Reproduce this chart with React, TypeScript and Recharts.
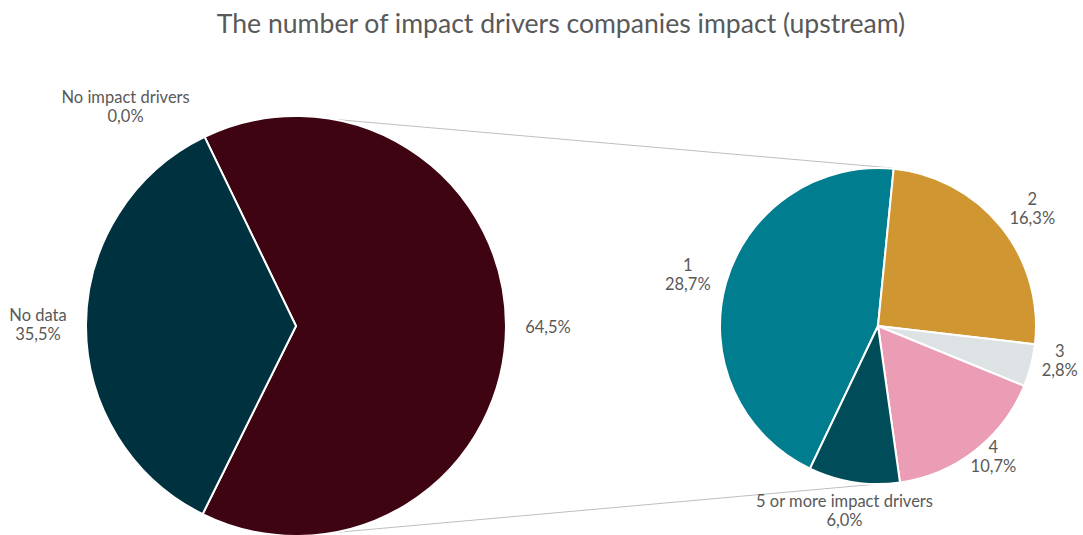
import React from 'react';
import { PieChart, Pie, Cell } from 'recharts';

// main pie
const mainNames = ['Other', 'No data', 'No impact drivers'];
const mainValues = [64.5, 35.5, 0.0];
const mainColors = ['#3e0411', '#00313f', '#00313f'];

// breakdown of "Other"
const subNames = ['1', '2', '3', '4', '5 or more impact drivers'];
const subValues = [28.7, 16.3, 2.8, 10.7, 6.0];
const subColors = ['#007e8f', '#cf9631', '#dde2e5', '#ea9db4', '#004c59'];

const W = 1083;
const H = 535;
const MAIN = { cx: 296, cy: 326, r: 210, start: 115.8 };
const SUB = { cx: 878, cy: 326, r: 158, start: 244.5 };

// label placement: extra radius beyond the rim and angle nudge
const labelLayout: Record<string, { extra: number; da: number }> = {
  Other: { extra: 42, da: 0 },
  'No data': { extra: 48, da: 0 },
  'No impact drivers': { extra: 68, da: 12 },
  '1': { extra: 39, da: 0.5 },
  '2': { extra: 36, da: -1.5 },
  '3': { extra: 27, da: 3.7 },
  '4': { extra: 16, da: 3.7 },
  '5 or more impact drivers': { extra: 30, da: -1.5 },
};

const mainData = mainNames.map((name, i) => ({ name, value: mainValues[i] }));
const subData = subNames.map((name, i) => ({ name, value: subValues[i] }));

const fmt = (v: number) => v.toFixed(1).replace('.', ',') + '%';
const RAD = Math.PI / 180;

const renderLabel = (props: any) => {
  const { cx, cy, midAngle, outerRadius, name, value } = props;
  const lay = labelLayout[name] || { extra: 30, da: 0 };
  const a = (midAngle + lay.da) * RAD;
  const rr = outerRadius + lay.extra;
  const x = cx + rr * Math.cos(a);
  const y = cy - rr * Math.sin(a);
  const common = {
    textAnchor: 'middle' as const,
    dominantBaseline: 'central' as const,
    fill: '#595959',
    fontSize: 16.5,
    fontFamily: 'Lato, sans-serif',
  };
  if (name === 'Other') {
    return (
      <text x={x} y={y} {...common}>
        {fmt(value)}
      </text>
    );
  }
  return (
    <g>
      <text x={x} y={y - 9.5} {...common}>{name}</text>
      <text x={x} y={y + 9.5} {...common}>{fmt(value)}</text>
    </g>
  );
};

export default function App() {
  return (
    <div style={{ position: 'absolute', left: 0, top: 0, width: W, height: H, background: '#fff' }}>
      <PieChart width={W} height={H} margin={{ top: 0, right: 0, bottom: 0, left: 0 }}>
        <text
          x={561}
          y={23}
          textAnchor="middle"
          dominantBaseline="central"
          fill="#595959"
          fontSize={26.6}
          fontFamily="Lato, sans-serif"
        >
          The number of impact drivers companies impact (upstream)
        </text>
        <g>
          <line x1={MAIN.cx} y1={MAIN.cy - MAIN.r} x2={SUB.cx + 14} y2={SUB.cy - SUB.r} stroke="#bfbfbf" strokeWidth={1} />
          <line x1={MAIN.cx} y1={MAIN.cy + MAIN.r} x2={SUB.cx} y2={SUB.cy + SUB.r} stroke="#bfbfbf" strokeWidth={1} />
        </g>
        <Pie
          data={mainData}
          dataKey="value"
          nameKey="name"
          cx={MAIN.cx}
          cy={MAIN.cy}
          outerRadius={MAIN.r}
          startAngle={MAIN.start}
          endAngle={MAIN.start - 360}
          stroke="#fff"
          strokeWidth={2}
          label={renderLabel}
          labelLine={false}
          isAnimationActive={false}
        >
          {mainData.map((d, i) => (
            <Cell key={d.name} fill={mainColors[i]} />
          ))}
        </Pie>
        <Pie
          data={subData}
          dataKey="value"
          nameKey="name"
          cx={SUB.cx}
          cy={SUB.cy}
          outerRadius={SUB.r}
          startAngle={SUB.start}
          endAngle={SUB.start - 360}
          stroke="#fff"
          strokeWidth={2}
          label={renderLabel}
          labelLine={false}
          isAnimationActive={false}
        >
          {subData.map((d, i) => (
            <Cell key={d.name} fill={subColors[i]} />
          ))}
        </Pie>
      </PieChart>
    </div>
  );
}
